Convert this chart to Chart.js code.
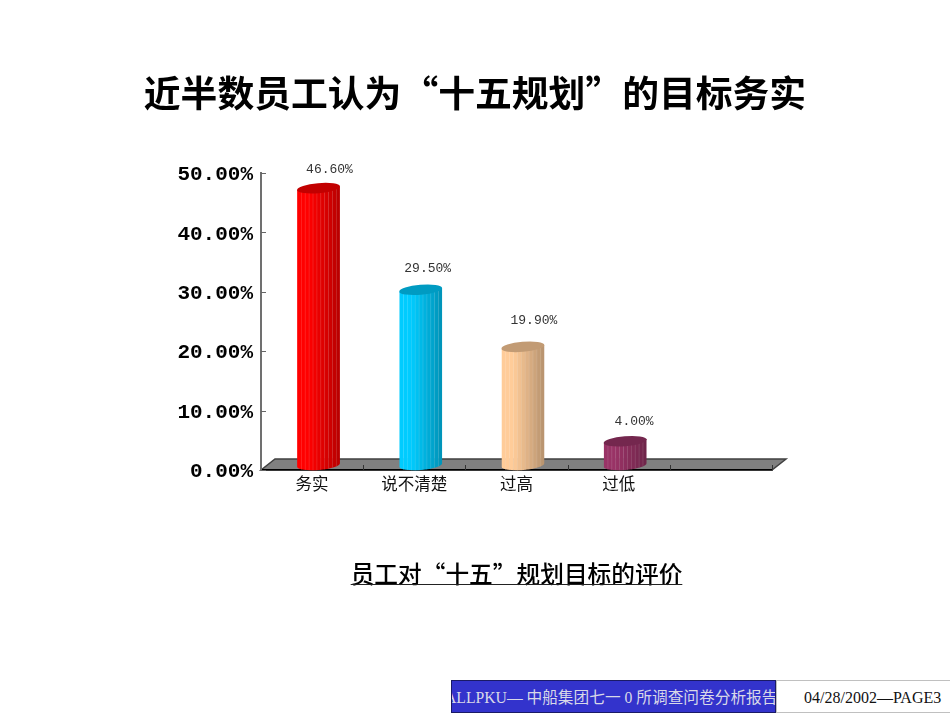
<!DOCTYPE html>
<html>
<head>
<meta charset="utf-8">
<script src="https://cdn.jsdelivr.net/npm/chart.js@4"></script>
<style>
  body { margin: 0; background: #fff; overflow: hidden; }
  #wrap { position: relative; width: 950px; height: 713px; }
  #heading { position: absolute; left: 0; top: 67px; width: 950px; margin: 0; text-align: center; line-height: 48px; font-family: "Noto Sans CJK SC"; font-size: 36.8px; font-weight: bold; color: #000; }
  .foot { position: absolute; top: 680px; height: 33px; line-height: 33px; overflow: hidden; white-space: nowrap; box-sizing: border-box; font-family: "Liberation Serif", "Noto Sans CJK SC"; }
  #footLeft { left: 451px; width: 325px; background: #3333cc; border: 1px solid #1a1a66; color: #d8d8e8; font-size: 15.7px; text-indent: -7px; }
  #footRight { left: 776px; width: 174px; background: #fff; border: 1px solid #c0c0c0; border-right: 0; color: #111; font-size: 16px; padding-left: 27px; }
</style>
</head>
<body>
<div id="wrap">
  <canvas id="myChart" width="950" height="713"></canvas>
  <h1 id="heading">近半数员工认为“十五规划”的目标务实</h1>
  <div class="foot" id="footLeft">ALLPKU— 中船集团七一 0 所调查问卷分析报告</div>
  <div class="foot" id="footRight">04/28/2002—PAGE3</div>
</div>
<script>
const categories = ["务实", "说不清楚", "过高", "过低", ""];
const values = [46.6, 29.5, 19.9, 4.0, null];
const barColors = ["#ff0000", "#00ccff", "#ffcc99", "#993366", "#000000"];
const axisTitle = "员工对“十五”规划目标的评价";

// 3d look of the original
const depthX = 6.4, depthY = -5;
const labelShift = [[11, -19], [7, -21], [11, -26], [9, -20]];

function shade(hex, f) {
  const n = parseInt(hex.slice(1), 16);
  const r = Math.round(((n >> 16) & 255) * f);
  const g = Math.round(((n >> 8) & 255) * f);
  const b = Math.round((n & 255) * f);
  return "rgb(" + r + "," + g + "," + b + ")";
}

function drawCylinder(ctx, bar, color) {
  const cx = bar.x + depthX;
  const top = bar.y + depthY;
  const bottom = bar.base + depthY + 0.5;
  const rx = 21.5, ry = 5, rot = -5 * Math.PI / 180;
  const dx = rx * Math.cos(rot), dy = rx * Math.sin(rot);

  ctx.save();
  ctx.beginPath();
  ctx.moveTo(cx - dx, top - dy);
  ctx.lineTo(cx - dx, bottom - dy);
  ctx.ellipse(cx, bottom, rx, ry, rot, Math.PI, 0, true);
  ctx.lineTo(cx + dx, top + dy);
  ctx.closePath();
  ctx.clip();
  const strips = 11;
  const w = (2 * dx) / strips;
  for (let i = 0; i < strips; i++) {
    const t = i / (strips - 1);
    const f = t < 0.25 ? 1 : 1 - (t - 0.25) * 0.36;
    const x = cx - dx + i * w;
    ctx.fillStyle = shade(color, f);
    ctx.fillRect(x, top - 10, w + 0.5, bottom - top + 25);
    if (i > 0) {
      ctx.fillStyle = "rgba(255,255,255,0.18)";
      ctx.fillRect(x, top - 10, 0.7, bottom - top + 25);
    }
  }
  ctx.restore();

  ctx.beginPath();
  ctx.ellipse(cx, top, rx, ry, rot, 0, Math.PI * 2);
  ctx.fillStyle = shade(color, 0.76);
  ctx.fill();
}

const sceneryPlugin = {
  id: "scenery",
  beforeDraw(chart) {
    const { ctx, chartArea: a } = chart;
    // floor of the 3d box
    ctx.save();
    ctx.beginPath();
    ctx.moveTo(a.left, a.bottom);
    ctx.lineTo(a.left + 14, a.bottom - 11);
    ctx.lineTo(a.right + 14, a.bottom - 11);
    ctx.lineTo(a.right, a.bottom);
    ctx.closePath();
    ctx.fillStyle = "#808080";
    ctx.fill();
    ctx.strokeStyle = "#404040";
    ctx.lineWidth = 1.5;
    ctx.stroke();
    ctx.restore();
  },
  beforeDatasetsDraw(chart) {
    const { ctx, chartArea: a, scales } = chart;
    ctx.save();
    ctx.strokeStyle = "#333";
    ctx.lineWidth = 1;
    // ticks point inward on both axes
    const step = (a.right - a.left) / categories.length;
    for (let i = 1; i <= categories.length; i++) {
      const x = Math.round(a.left + step * i) + 0.5;
      ctx.beginPath();
      ctx.moveTo(x, a.bottom - 5);
      ctx.lineTo(x, a.bottom);
      ctx.stroke();
    }
    ctx.strokeStyle = "#666";
    scales.y.ticks.forEach((t) => {
      const y = Math.round(scales.y.getPixelForValue(t.value)) + 0.5;
      ctx.beginPath();
      ctx.moveTo(a.left, y);
      ctx.lineTo(a.left + 5, y);
      ctx.stroke();
    });
    ctx.restore();

    chart.getDatasetMeta(0).data.forEach((bar, i) => {
      if (values[i] !== null) drawCylinder(ctx, bar, barColors[i]);
    });
    return false;
  },
  afterDraw(chart) {
    const { ctx, scales } = chart;
    ctx.save();
    // value labels
    ctx.font = '13px "Liberation Mono"';
    ctx.fillStyle = "#333";
    ctx.textAlign = "center";
    ctx.textBaseline = "middle";
    chart.getDatasetMeta(0).data.forEach((bar, i) => {
      if (values[i] === null) return;
      const s = labelShift[i];
      ctx.fillText(values[i].toFixed(2) + "%", bar.x + depthX + s[0], bar.y + depthY + s[1]);
    });
    // underline for the axis title
    ctx.font = '500 ' + scales.x.options.title.font.size + 'px "Noto Sans CJK SC"';
    const w = ctx.measureText(axisTitle).width;
    const mid = (scales.x.left + scales.x.right) / 2;
    ctx.strokeStyle = "#222";
    ctx.lineWidth = 1;
    ctx.beginPath();
    ctx.moveTo(mid - w / 2, 584.5);
    ctx.lineTo(mid + w / 2, 584.5);
    ctx.stroke();
    ctx.restore();
  },
};

new Chart(document.getElementById("myChart").getContext("2d"), {
  type: "bar",
  data: {
    labels: categories,
    datasets: [{ data: values, backgroundColor: barColors, barThickness: 43 }],
  },
  options: {
    responsive: false,
    animation: false,
    layout: { padding: { left: 0, right: 178, top: 173, bottom: 0 } },
    plugins: {
      legend: { display: false },
      tooltip: { enabled: false },
    },
    scales: {
      x: {
        afterFit(scale) { scale.height = 243; },
        grid: { drawOnChartArea: false, drawTicks: false },
        border: { color: "#000", width: 1.5 },
        ticks: { color: "#111", padding: 4, maxRotation: 0, autoSkip: false, font: { family: '"Noto Sans CJK SC"', size: 16.5 } },
        title: {
          display: true,
          text: axisTitle,
          color: "#000",
          font: { family: '"Noto Sans CJK SC"', size: 23.7, weight: 500, lineHeight: 1.2 },
          padding: { top: 0, bottom: 124.6 },
        },
      },
      y: {
        min: 0,
        max: 50,
        afterFit(scale) { scale.width = 261; },
        grid: { drawOnChartArea: false, drawTicks: false },
        border: { color: "#707070", width: 2 },
        ticks: {
          stepSize: 10,
          color: "#000",
          padding: 8,
          labelOffset: 2,
          font: { family: '"Liberation Mono"', size: 21, weight: "bold" },
          callback: (v) => v.toFixed(2) + "%",
        },
      },
    },
  },
  plugins: [sceneryPlugin],
});
</script>
</body>
</html>
